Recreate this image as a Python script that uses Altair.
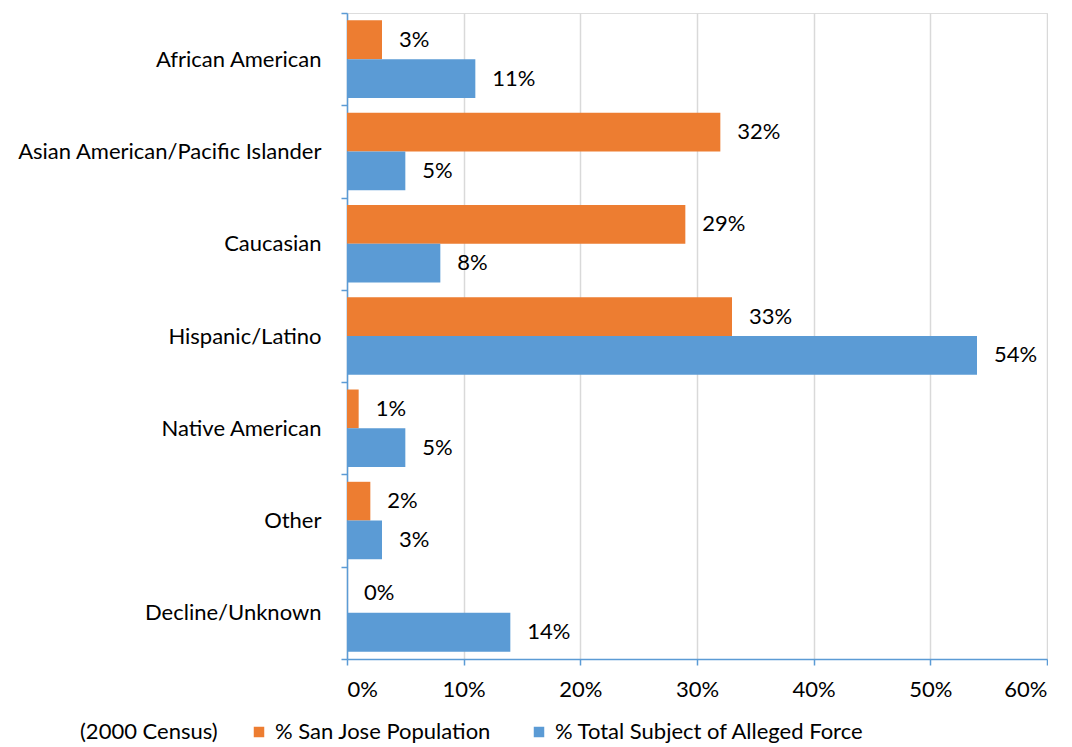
import altair as alt
import pandas as pd

categories = ["African American", "Asian American/Pacific Islander", "Caucasian",
              "Hispanic/Latino", "Native American", "Other", "Decline/Unknown"]
series = ["% San Jose Population", "% Total Subject of Alleged Force"]
san_jose = [3, 32, 29, 33, 1, 2, 0]
alleged_force = [11, 5, 8, 54, 5, 3, 14]
colors = ["#ED7D31", "#5B9BD5"]

rows = []
for c, a, b in zip(categories, san_jose, alleged_force):
    rows.append({"cat": c, "series": series[0], "v": a / 100, "label": f"{a}%"})
    rows.append({"cat": c, "series": series[1], "v": b / 100, "label": f"{b}%"})
df = pd.DataFrame(rows)

FONT = "Lato"
FS = 22

y = alt.Y("cat:N", sort=categories, title=None,
          scale=alt.Scale(paddingInner=0, paddingOuter=0),
          axis=alt.Axis(labelFontSize=FS, labelFont=FONT, labelColor="#000000",
                        labelPadding=20, labelLimit=0, tickBand="extent", tickSize=6,
                        tickColor="#5B9BD5", domainColor="#5B9BD5", domainWidth=1.5,
                        tickWidth=1.5))
yoff = alt.YOffset("series:N", sort=series,
                   scale=alt.Scale(paddingInner=0, paddingOuter=0.19))
x = alt.X("v:Q", title=None,
          scale=alt.Scale(domain=[0, 0.6], nice=False),
          axis=alt.Axis(format="%", values=[0, 0.1, 0.2, 0.3, 0.4, 0.5, 0.6],
                        labelFontSize=FS, labelFont=FONT, labelColor="#000000",
                        labelPadding=14, tickSize=6, tickColor="#5B9BD5",
                        domainColor="#5B9BD5", domainWidth=1.5, tickWidth=1.5,
                        grid=True, gridColor="#D9D9D9", gridWidth=1.5))

bars = alt.Chart(df).mark_bar().encode(
    x=x, y=y, yOffset=yoff,
    color=alt.Color("series:N", sort=series,
                    scale=alt.Scale(domain=series, range=colors),
                    legend=alt.Legend(orient="none", legendX=-267, legendY=708,
                                      direction="horizontal",
                                      title="(2000 Census)", titleOrient="left",
                                      titleFont=FONT, titleFontSize=FS,
                                      titleFontWeight="normal", titleColor="#000000",
                                      titlePadding=30, titleLimit=0,
                                      labelFont=FONT, labelFontSize=FS, labelLimit=0,
                                      labelColor="#000000", symbolType="square",
                                      symbolSize=110, symbolStrokeWidth=0,
                                      columnPadding=36, labelOffset=5)),
)

labels = alt.Chart(df).mark_text(align="left", baseline="middle", dx=17,
                                 font=FONT, fontSize=FS, color="#000000").encode(
    x=alt.X("v:Q"), y=alt.Y("cat:N", sort=categories), yOffset=yoff,
    text="label:N",
)

chart = alt.layer(bars, labels).properties(
    width=700, height=646,
    padding={"left": 8, "top": -6, "right": 0, "bottom": 0},
).configure_view(stroke=None).configure(background="white")

chart.save("out.html", embed_options={"renderer": "svg", "actions": False})
